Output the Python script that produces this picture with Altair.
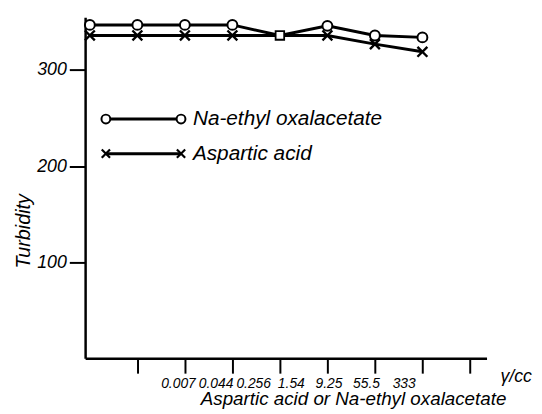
import altair as alt
import pandas as pd

# ---- data ----
positions = [0, 1, 2, 3, 4, 5, 6, 7]
na_ethyl = [347, 347, 347, 347, 336, 346, 336, 334]
aspartic = [336, 336, 336, 336, 336, 336, 327, 319]
tick_positions = [1, 2, 3, 4, 5, 6, 7, 8]
tick_labels = ["", "0.007", "0.044", "0.256", "1.54", "9.25", "55.5", "333"]
series_names = ["Na-ethyl oxalacetate", "Aspartic acid"]
unit_label = "γ/cc"
x_title = "Aspartic acid or Na-ethyl oxalacetate"
y_title = "Turbidity"
y_ticks = [100, 200, 300]

FONT = "Liberation Sans, Arial, sans-serif"

df = pd.DataFrame({
    "pos": positions * 2,
    "value": na_ethyl + aspartic,
    "series": [series_names[0]] * len(positions) + [series_names[1]] * len(positions),
})
both = pd.DataFrame({"pos": positions, "na": na_ethyl, "asp": aspartic})
coincide = both[both["na"] == both["asp"]].rename(columns={"na": "value"})
na_pts = both[both["na"] != both["asp"]].rename(columns={"na": "value"})
asp_pts = both[both["na"] != both["asp"]].rename(columns={"asp": "value"})

label_array = "[" + ",".join("'" + t + "'" for t in tick_labels) + "]"

x_scale = alt.Scale(domain=[-0.1, 8.35], nice=False, zero=False)
y_scale = alt.Scale(domain=[0, 355], nice=False)

x_enc = alt.X(
    "pos:Q", scale=x_scale,
    axis=alt.Axis(
        values=tick_positions,
        labelExpr=label_array + "[datum.value-1]",
        labelOffset={"expr": "3 - (datum.value-1)*10"},
        labelOverlap=False,
        labelFontSize=14,
        title=x_title, titleX=271, titleY=47, titleBaseline="alphabetic",
        titleFontSize=19, titleFont=FONT, titleFontStyle="italic", titleFontWeight="normal",
        tickSize=15, labelPadding=4, grid=False,
    ),
)
y_enc = alt.Y(
    "value:Q", scale=y_scale,
    axis=alt.Axis(
        values=y_ticks, title=y_title, titleX=-56, titleY=216, titleBaseline="alphabetic",
        titleFontSize=20, titleFont=FONT, titleFontStyle="italic", titleFontWeight="normal",
        tickSize=16, labelPadding=3, labelFontSize=18, grid=False,
    ),
)

lines = alt.Chart(df).mark_line(color="black", strokeWidth=3).encode(
    x=x_enc, y=y_enc, detail="series:N"
)

cross_path = "M-1,-1L1,1M-1,1L1,-1"

circles = alt.Chart(na_pts).mark_point(
    shape="circle", size=100, filled=True, fill="white", stroke="black", strokeWidth=2, opacity=1
).encode(x=alt.X("pos:Q", scale=x_scale), y=alt.Y("value:Q", scale=y_scale))

crosses = alt.Chart(asp_pts).mark_point(
    shape=cross_path, size=100, stroke="black", strokeWidth=2.4, opacity=1
).encode(x=alt.X("pos:Q", scale=x_scale), y=alt.Y("value:Q", scale=y_scale))

squares = alt.Chart(coincide).mark_point(
    shape="square", size=75, filled=True, fill="white", stroke="black", strokeWidth=1.8, opacity=1
).encode(x=alt.X("pos:Q", scale=x_scale), y=alt.Y("value:Q", scale=y_scale))

# ---- hand-drawn style legend inside the plot ----
leg_df = pd.DataFrame({"series": series_names})
leg1 = leg_df.iloc[[0]]
leg2 = leg_df.iloc[[1]]

legend_layers = []
for sub, yy, shape, extra in [
    (leg1, 103, "circle", dict(filled=True, fill="white", size=80, strokeWidth=2)),
    (leg2, 138, cross_path, dict(size=70, strokeWidth=2.2)),
]:
    legend_layers.append(
        alt.Chart(sub).mark_rule(color="black", strokeWidth=3).encode(
            x=alt.value(21), x2=alt.value(97), y=alt.value(yy)
        )
    )
    for xx in (21, 97):
        legend_layers.append(
            alt.Chart(sub).mark_point(shape=shape, stroke="black", opacity=1, **extra).encode(
                x=alt.value(xx), y=alt.value(yy)
            )
        )
    legend_layers.append(
        alt.Chart(sub).mark_text(
            align="left", baseline="middle", font=FONT, fontStyle="italic",
            fontSize=21, color="black"
        ).encode(x=alt.value(109), y=alt.value(yy), text="series:N")
    )

unit = alt.Chart(pd.DataFrame({"t": [unit_label]})).mark_text(
    align="left", baseline="middle", font=FONT, fontStyle="italic", fontSize=18, color="black"
).encode(x=alt.value(420), y=alt.value(364), text="t:N")

chart = alt.layer(lines, circles, crosses, squares, *legend_layers, unit).properties(
    width=406, height=345, autosize="none",
    padding={"left": 78, "top": 7, "right": 48, "bottom": 54},
    background="white",
).configure_view(stroke=None).configure_axis(
    domainColor="black", domainWidth=2.5, tickColor="black", tickWidth=2,
    labelColor="black", titleColor="black", labelFont=FONT, labelFontStyle="italic",
)

chart.save("out.html", embed_options={"renderer": "svg", "actions": False})
